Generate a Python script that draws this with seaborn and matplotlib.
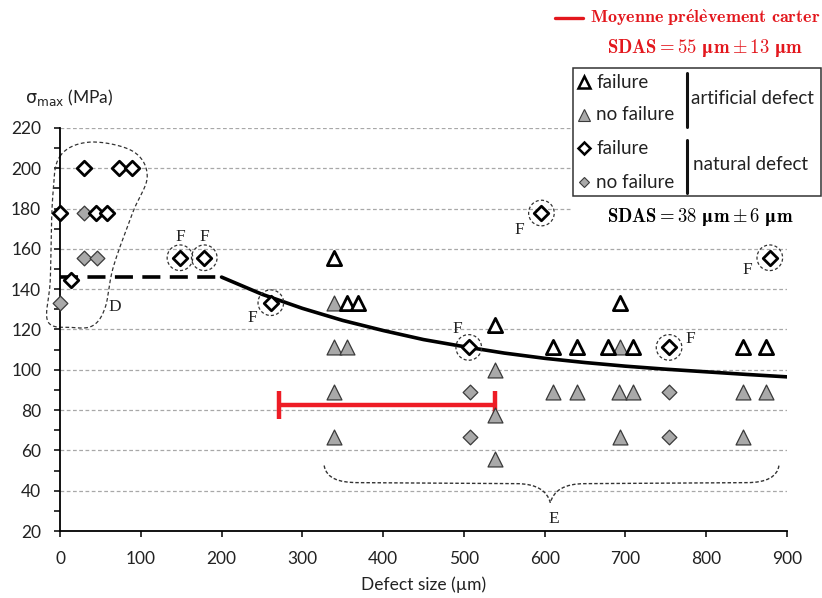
import numpy as np
import matplotlib
matplotlib.use("Agg")
import matplotlib.pyplot as plt
import seaborn as sns
from matplotlib.lines import Line2D
from matplotlib.patches import Rectangle, PathPatch
from matplotlib.path import Path
from matplotlib.ticker import MultipleLocator

# ---------------- data ----------------
art_fail_x = [339.5, 355, 369, 538, 610.5, 639.5, 678.5, 709.5, 693, 845.5, 874]
art_fail_y = [155.6, 133.3, 133.3, 122.2, 111.1, 111.1, 111.1, 111.1, 133.3, 111.1, 111.1]

art_nofail_x = [339.5, 339.5, 355, 339.5, 339.5, 538, 538, 538, 610.5, 639.5,
                693, 692, 709.5, 693, 845.5, 874, 845.5]
art_nofail_y = [133.3, 111.1, 111.1, 88.9, 66.7, 100, 77.8, 55.6, 88.9, 88.9,
                111.1, 88.9, 88.9, 66.7, 88.9, 88.9, 66.7]

nat_fail_x = [0, 29.7, 73.6, 89, 44, 58.5, 14, 148.5, 178.6, 261, 506, 596, 754, 878.7]
nat_fail_y = [177.8, 200, 200, 200, 177.8, 177.8, 144.4, 155.6, 155.6, 133.3, 111.1, 177.8, 111.1, 155.6]

nat_nofail_x = [29.7, 29.7, 45.4, 0, 507, 507, 754, 754]
nat_nofail_y = [177.8, 155.6, 155.6, 133.3, 88.9, 66.7, 88.9, 66.7]

# points marked "F"
f_x = [148.5, 178.6, 261, 506, 596, 754, 878.7]
f_y = [155.6, 155.6, 133.3, 111.1, 177.8, 111.1, 155.6]

# threshold: plateau + curve
plateau_x = [0, 200]
plateau_y = [146, 146]
curve_x = [200, 250, 300, 350, 400, 450, 500, 550, 600, 650, 700, 750, 800, 850, 900]
curve_y = [146, 137.5, 130.5, 124.5, 119.5, 115, 111.5, 108.3, 105.7, 103.6, 101.8, 100.3, 99, 97.7, 96.5]

# Moyenne prélèvement carter range
moy_range = [271, 539]
moy_level = 82.7

# ---------------- style ----------------
sns.set_theme(style="white")
plt.rcParams["font.family"] = ["Lato", "DejaVu Sans"]

W, H = 822, 598
fig = plt.figure(figsize=(W / 100, H / 100), dpi=100)
ax = fig.add_axes([60 / W, 1 - 531 / H, 727 / W, 403 / H])

def fx(px):
    return px / W

def fy(py):
    return 1 - py / H

ax.set_xlim(0, 900)
ax.set_ylim(20, 220)
ax.set_xticks(range(0, 901, 100))
ax.set_yticks(range(20, 221, 20))
ax.yaxis.set_minor_locator(MultipleLocator(10))
for y in range(40, 221, 20):
    ax.axhline(y, color="#a8a8a8", lw=0.9, ls=(0, (3, 2)), zorder=0)

for s in ["top", "right"]:
    ax.spines[s].set_visible(False)
for s in ["left", "bottom"]:
    ax.spines[s].set_color("black")
    ax.spines[s].set_linewidth(1.3)

ax.tick_params(axis="both", which="major", direction="out", length=4.5, width=1.1,
               color="black", labelsize=12.5, labelcolor="#222222", left=True, bottom=True)
ax.tick_params(axis="y", which="major", pad=9)
ax.tick_params(axis="x", which="major", pad=10)
ax.tick_params(axis="y", which="minor", direction="out", length=4.5, width=1.1,
               color="black", left=True)
ax.set_xlabel("Defect size (µm)", fontsize=12.5, color="#222222", labelpad=7)

# ---------------- lines ----------------
sns.lineplot(x=plateau_x, y=plateau_y, ax=ax, color="black", lw=2.6,
             ls=(0, (5, 2.6)), zorder=3)
sns.lineplot(x=curve_x, y=curve_y, ax=ax, color="black", lw=2.6, zorder=3)

ax.errorbar(x=[np.mean(moy_range)], y=[moy_level],
            xerr=[(moy_range[1] - moy_range[0]) / 2], color="#ee1c25",
            elinewidth=3.2, capsize=10, capthick=3.2, fmt="none", zorder=4)

# ---------------- points ----------------
sns.scatterplot(x=art_nofail_x, y=art_nofail_y, marker="^", s=115, color="#a9a9a9",
                edgecolor="#3a3a3a", linewidth=0.9, ax=ax, zorder=5, clip_on=False)
sns.scatterplot(x=art_fail_x, y=art_fail_y, marker="^", s=105, color="white",
                edgecolor="black", linewidth=2.0, ax=ax, zorder=6, clip_on=False)
sns.scatterplot(x=nat_nofail_x, y=nat_nofail_y, marker="D", s=56, color="#a9a9a9",
                edgecolor="#3a3a3a", linewidth=0.9, ax=ax, zorder=5, clip_on=False)
sns.scatterplot(x=nat_fail_x, y=nat_fail_y, marker="D", s=55, color="white",
                edgecolor="black", linewidth=2.0, ax=ax, zorder=6, clip_on=False)

# F circles and labels
ax.scatter(f_x, f_y, s=340, facecolors="none", edgecolors="#333333",
           linewidths=0.9, linestyle=(0, (2.5, 1.8)), zorder=7, clip_on=False)
f_offsets = [(0, 15), (0, 15), (-13, -11), (-8, 13), (-16, -12), (15, 6), (-16, -9)]
for x, y, off in zip(f_x, f_y, f_offsets):
    ax.annotate("F", (x, y), xytext=off, textcoords="offset points",
                ha="center", va="center", fontsize=12.5, family="Liberation Serif",
                color="#222222", zorder=8)

# D region (dashed closed loop)
d_pts = np.array([(0, 206), (37, 213), (90, 208.5), (108, 196), (90, 178), (66, 151),
                  (56, 131), (41, 122), (16, 121), (-15, 124), (-12, 145), (-9, 186)])
def catmull_closed(p, n=20):
    out = []
    m = len(p)
    for i in range(m):
        p0, p1, p2, p3 = p[i - 1], p[i], p[(i + 1) % m], p[(i + 2) % m]
        t = np.linspace(0, 1, n, endpoint=False)[:, None]
        out.append(0.5 * ((2 * p1) + (-p0 + p2) * t + (2 * p0 - 5 * p1 + 4 * p2 - p3) * t ** 2
                          + (-p0 + 3 * p1 - 3 * p2 + p3) * t ** 3))
    out = np.vstack(out)
    return np.vstack([out, out[:1]])
loop = catmull_closed(d_pts)
ax.plot(loop[:, 0], loop[:, 1], color="#333333", lw=0.9, ls=(0, (3, 2)),
        clip_on=False, zorder=2)
ax.text(68, 131, "D", fontsize=12.5, family="Liberation Serif", color="#222222",
        ha="center", va="center")

# E brace
verts = [(327, 52.5), (330, 46), (345, 44), (370, 44),
         (565, 43.5),
         (590, 43.5), (603, 40), (607, 34),
         (611, 40), (624, 43.5), (650, 43.5),
         (850, 44),
         (875, 44), (888, 47), (890, 52.5)]
codes = [Path.MOVETO, Path.CURVE4, Path.CURVE4, Path.CURVE4,
         Path.LINETO,
         Path.CURVE4, Path.CURVE4, Path.CURVE4,
         Path.CURVE4, Path.CURVE4, Path.CURVE4,
         Path.LINETO,
         Path.CURVE4, Path.CURVE4, Path.CURVE4]
ax.add_patch(PathPatch(Path(verts, codes), facecolor="none", edgecolor="#333333",
                       lw=1.0, ls=(0, (2.5, 1.5)), zorder=2))
ax.text(611, 26, "E", fontsize=12.5, family="Liberation Serif", color="#222222",
        ha="center", va="center")

# ---------------- figure-level texts / legend ----------------
fig.text(fx(25), fy(98), r"$\mathrm{\sigma}_{\mathrm{max}}$ (MPa)", fontsize=12.5,
         color="#222222", ha="left", va="center", math_fontfamily="dejavusans")

red = "#e3171d"
fig.add_artist(Line2D([fx(555), fx(583)], [fy(18), fy(18)], color=red, lw=2.4,
                      transform=fig.transFigure))
fig.text(fx(590), fy(18), r"$\mathbf{Moyenne\ pr\acute{e}l\grave{e}vement\ carter}$",
         color=red, fontsize=13, ha="left", va="center", math_fontfamily="cm")
fig.text(fx(705), fy(48), "$\\mathbf{SDAS} = \\mathbf{55\\ \u03bcm} \\pm \\mathbf{13\\ \u03bcm}$",
         color=red, fontsize=13.5, ha="center", va="center", math_fontfamily="cm")

# white patch behind SDAS 38
fig.add_artist(Rectangle((fx(572), fy(232)), (W - 572) / W, (232 - 196) / H,
                         transform=fig.transFigure, facecolor="white", edgecolor="none",
                         zorder=3))
fig.text(fx(700), fy(217), "$\\mathbf{SDAS} = \\mathbf{38\\ \u03bcm} \\pm \\mathbf{6\\ \u03bcm}$",
         color="black", fontsize=13.5, ha="center", va="center", math_fontfamily="cm",
         zorder=4)

# legend box
fig.add_artist(Rectangle((fx(573), fy(196)), (821 - 573) / W, (196 - 68) / H,
                         transform=fig.transFigure, facecolor="white",
                         edgecolor="#333333", lw=1.1, zorder=3))
leg_rows = [(82, "^", "white", "black", 1.8, 8),
            (115, "^", "#a9a9a9", "#3a3a3a", 0.8, 8),
            (148, "D", "white", "black", 1.8, 6),
            (182, "D", "#a9a9a9", "#3a3a3a", 0.8, 5.5)]
leg_labels = ["failure", "no failure", "failure", "no failure"]
for (py, mk, fc, ec, mew, ms), lab in zip(leg_rows, leg_labels):
    fig.add_artist(Line2D([fx(584)], [fy(py)], marker=mk, ms=ms, mfc=fc, mec=ec,
                          mew=mew, ls="none", transform=fig.transFigure, zorder=4))
    fig.text(fx(596), fy(py), lab, fontsize=13.5, color="#222222", ha="left",
             va="center", zorder=4)
for y0, y1 in [(73, 127), (140, 193)]:
    fig.add_artist(Line2D([fx(687), fx(687)], [fy(y0), fy(y1)], color="#111111",
                          lw=2.2, transform=fig.transFigure, zorder=4))
fig.text(fx(691), fy(99), "artificial defect", fontsize=13.5, color="#222222",
         ha="left", va="center", zorder=4)
fig.text(fx(693), fy(164), "natural defect", fontsize=13.5, color="#222222",
         ha="left", va="center", zorder=4)

fig.savefig("out.png", dpi=100)
